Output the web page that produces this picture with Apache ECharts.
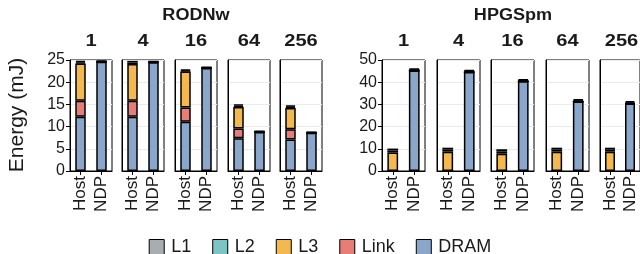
<!DOCTYPE html>
<html>
<head>
<meta charset="utf-8">
<script src="https://cdn.jsdelivr.net/npm/echarts@6/dist/echarts.min.js"></script>
<style>
  html, body { margin: 0; padding: 0; background: #fff; }
  #chart { width: 640px; height: 254px; }
</style>
</head>
<body>
<div id="chart"></div>
<script>
// facets and bars
const facets = ['1', '4', '16', '64', '256'];
const systems = ['Host', 'NDP'];
const components = ['L1', 'L2', 'L3', 'Link', 'DRAM'];
const compColors = ['#a7adb1', '#7cc5c4', '#f5b84e', '#e67d77', '#8ba6cb'];

// RODNw (mJ)
const rodHostDRAM = [12.2, 12.2, 11.1, 7.4, 7.1];
const rodHostLink = [3.6, 3.6, 3.2, 2.2, 2.3];
const rodHostL3 = [8.4, 8.3, 8.1, 4.8, 4.8];
const rodHostL2 = [0.3, 0.35, 0.25, 0.3, 0.3];
const rodHostL1 = [0.3, 0.35, 0.25, 0.3, 0.3];
const rodNdpDRAM = [24.6, 24.5, 23.2, 8.8, 8.6];
const rodNdpLink = [0, 0, 0, 0, 0];
const rodNdpL3 = [0, 0, 0, 0, 0];
const rodNdpL2 = [0.1, 0.1, 0.1, 0.1, 0.1];
const rodNdpL1 = [0.1, 0.1, 0.1, 0.1, 0.1];

// HPGSpm (mJ)
const hpgHostDRAM = [0, 0, 0, 0, 0];
const hpgHostLink = [0, 0, 0, 0, 0];
const hpgHostL3 = [8.3, 8.7, 7.8, 8.7, 8.7];
const hpgHostL2 = [0.9, 0.9, 1.0, 0.9, 0.9];
const hpgHostL1 = [0.9, 0.9, 1.0, 0.9, 0.9];
const hpgNdpDRAM = [45.3, 44.6, 40.4, 31.3, 30.4];
const hpgNdpLink = [0, 0, 0, 0, 0];
const hpgNdpL3 = [0, 0, 0, 0, 0];
const hpgNdpL2 = [0.45, 0.45, 0.45, 0.55, 0.55];
const hpgNdpL1 = [0.45, 0.45, 0.45, 0.55, 0.55];

const rodTicks = [0, 5, 10, 15, 20, 25];
const hpgTicks = [0, 10, 20, 30, 40, 50];

const FONT = 'Liberation Sans';
const TOP = 60, HEIGHT = 111;

let grids = [], xAxes = [], yAxes = [], series = [], graphics = [];

function addGroup(title, host, ndp, ticks, lefts, width, titleX) {
    graphics.push({
        type: 'text', x: titleX, y: 16, scaleX: 1.13,
        style: { text: title, font: 'bold 16px ' + FONT, fill: '#1a1a1a', textAlign: 'center', textVerticalAlign: 'middle' }
    });
    facets.forEach((f, i) => {
        const g = grids.length;
        grids.push({ left: lefts[i], top: TOP, width: width, height: HEIGHT, show: true, borderColor: '#000', borderWidth: 1, backgroundColor: '#fff' });
        graphics.push({
            type: 'text', x: lefts[i] + width / 2, y: 41, scaleX: 1.18,
            style: { text: f, font: 'bold 17px ' + FONT, fill: '#1a1a1a', textAlign: 'center', textVerticalAlign: 'middle' }
        });
        xAxes.push({
            gridIndex: g, type: 'category', data: systems,
            axisLine: { show: true, lineStyle: { color: '#000', width: 1 } },
            axisTick: { show: true, alignWithLabel: true, length: 4, lineStyle: { color: '#000' } },
            axisLabel: { interval: 0, hideOverlap: false, rotate: 90, margin: 5, fontSize: 17, fontFamily: FONT, color: '#1a1a1a' }
        });
        yAxes.push({
            gridIndex: g, type: 'value', min: ticks[0], max: ticks[ticks.length - 1],
            interval: ticks[1] - ticks[0],
            axisLine: { show: true, lineStyle: { color: '#000', width: 1 } },
            axisTick: { show: i === 0, length: 4, lineStyle: { color: '#000' } },
            axisLabel: { show: i === 0, margin: 5, fontSize: 16, fontFamily: FONT, color: '#1a1a1a' },
            splitLine: { show: true, lineStyle: { color: '#ebebeb', width: 1 } }
        });
        // stack from bottom: DRAM, Link, L3, L2, L1
        [4, 3, 2, 1, 0].forEach(c => {
            const key = components[c];
            series.push({
                name: key, type: 'bar', xAxisIndex: g, yAxisIndex: g,
                stack: 'e' + g, barWidth: '50%',
                itemStyle: { color: compColors[c], borderColor: '#000', borderWidth: 1.5 },
                emphasis: { disabled: true },
                data: [host[key][i], ndp[key][i]]
            });
        });
    });
}

addGroup('RODNw',
    { DRAM: rodHostDRAM, Link: rodHostLink, L3: rodHostL3, L2: rodHostL2, L1: rodHostL1 },
    { DRAM: rodNdpDRAM, Link: rodNdpLink, L3: rodNdpL3, L2: rodNdpL2, L1: rodNdpL1 },
    rodTicks, [70, 122, 175, 228, 280], 42, 196);
addGroup('HPGSpm',
    { DRAM: hpgHostDRAM, Link: hpgHostLink, L3: hpgHostL3, L2: hpgHostL2, L1: hpgHostL1 },
    { DRAM: hpgNdpDRAM, Link: hpgNdpLink, L3: hpgNdpL3, L2: hpgNdpL2, L1: hpgNdpL1 },
    hpgTicks, [382, 437, 491, 546, 600], 43, 513);

graphics.push({
    type: 'text', x: 17, y: 115, rotation: Math.PI / 2,
    style: { text: 'Energy (mJ)', font: '21px ' + FONT, fill: '#1a1a1a', textAlign: 'center', textVerticalAlign: 'middle' }
});

const chart = echarts.init(document.getElementById('chart'), null, { renderer: 'canvas' });
chart.setOption({
    animation: false,
    grid: grids,
    xAxis: xAxes,
    yAxis: yAxes,
    series: series,
    graphic: graphics,
    legend: {
        data: components, top: 233, left: 'center',
        icon: 'rect', itemWidth: 15, itemHeight: 15, itemGap: 21,
        itemStyle: { borderColor: '#000', borderWidth: 1 },
        textStyle: { fontSize: 18, fontFamily: FONT, color: '#1a1a1a', padding: [0, 0, 0, 2] }
    }
});
</script>
</body>
</html>
